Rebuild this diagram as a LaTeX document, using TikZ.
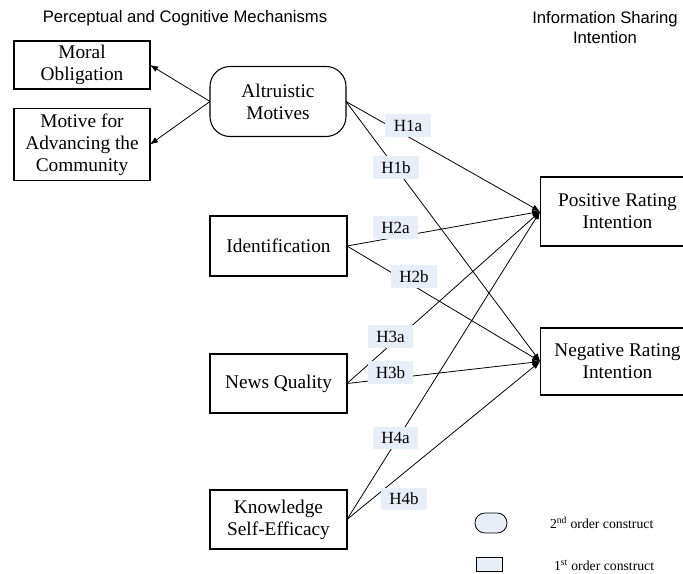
\documentclass[tikz,border=0pt]{standalone}
\usepackage{fontspec}
\setmainfont{Liberation Serif}
\newfontfamily\arialfont{Liberation Sans}
\usetikzlibrary{arrows.meta}
\definecolor{ce8eef7}{RGB}{232,238,247}
\def \globalscale {1.000000}

\begin{document}
\begin{tikzpicture}[y=-0.75pt, x=0.75pt, yscale=\globalscale,xscale=\globalscale, every node/.append style={scale=\globalscale}, inner sep=0pt, outer sep=0pt,
  construct/.style={draw=black, line width=0.8pt, align=center, font=\fontsize{14.5}{16.5}\selectfont},
  hyp/.style={fill=ce8eef7, minimum width=34pt, minimum height=17pt, font=\fontsize{12.8}{14}\selectfont},
  effect/.style={draw=black, line width=0.6pt, -{Latex[length=6pt,width=4.5pt]}},
  grouptitle/.style={align=center, font=\arialfont\fontsize{12.5}{15}\selectfont},
  legendtext/.style={anchor=west, font=\fontsize{10.3}{12}\selectfont}]
  \path[use as bounding box, fill=white] (0, 0) rectangle (683, 574);



  \node[grouptitle] (leftheading) at (185, 18.5){Perceptual and Cognitive Mechanisms};



  \node[grouptitle] (rightheading) at (605, 28){Information Sharing\\Intention};



  \node[construct, minimum width=102pt, minimum height=36pt] (moral) at (82, 65){Moral\\Obligation};



  \node[construct, minimum width=102pt, minimum height=54pt] (advancing) at (82, 144.5){Motive for\\Advancing the\\Community};



  \node[construct, rounded corners=15pt, minimum width=102pt, minimum height=52.5pt] (altruistic) at (278, 101.5){Altruistic\\Motives};



  \node[construct, minimum width=102.75pt, minimum height=45pt] (identification) at (278.5, 246){Identification};



  \node[construct, minimum width=102.75pt, minimum height=44.25pt] (newsquality) at (278.5, 383.5){News Quality};



  \node[construct, minimum width=102.75pt, minimum height=44.25pt] (selfefficacy) at (278.5, 519.5){Knowledge\\Self-Efficacy};



  \node[construct, minimum width=116pt, minimum height=51.75pt] (positive) at (617.5, 211.5){Positive Rating\\Intention};



  \node[construct, minimum width=116pt, minimum height=50.25pt] (negative) at (617.5, 361.5){Negative Rating\\Intention};



  \path[effect] (altruistic.west) -- (moral.east);
  \path[effect] (altruistic.west) -- (advancing.east);



  \path[effect] (altruistic.east) -- (positive.west);
  \path[effect] (altruistic.east) -- (negative.west);
  \path[effect] (identification.east) -- (positive.west);
  \path[effect] (identification.east) -- (negative.west);
  \path[effect] (newsquality.east) -- (positive.west);
  \path[effect] (newsquality.east) -- (negative.west);
  \path[effect] (selfefficacy.east) -- (positive.west);
  \path[effect] (selfefficacy.east) -- (negative.west);



  \node[hyp] (h1a) at (408, 125.5){H1a};
  \node[hyp] (h1b) at (396, 167.5){H1b};
  \node[hyp] (h2a) at (395.5, 227.5){H2a};
  \node[hyp] (h2b) at (414, 276.5){H2b};
  \node[hyp] (h3a) at (390.5, 336.5){H3a};
  \node[hyp] (h3b) at (390.5, 372.5){H3b};
  \node[hyp] (h4a) at (395.5, 438){H4a};
  \node[hyp] (h4b) at (404, 499){H4b};



  \node[draw=black, fill=ce8eef7, line width=0.6pt, rounded corners=7.4pt, minimum width=24pt, minimum height=15pt] (legendsecond) at (491, 523){};



  \node[draw=black, fill=ce8eef7, line width=0.6pt, minimum width=20pt, minimum height=11pt] (legendfirst) at (489.5, 564.5){};



  \node[legendtext] (legendsecondtext) at (550, 523){2\textsuperscript{nd} order construct};



  \node[legendtext] (legendfirsttext) at (554, 565){1\textsuperscript{st} order construct};




\end{tikzpicture}
\end{document}
